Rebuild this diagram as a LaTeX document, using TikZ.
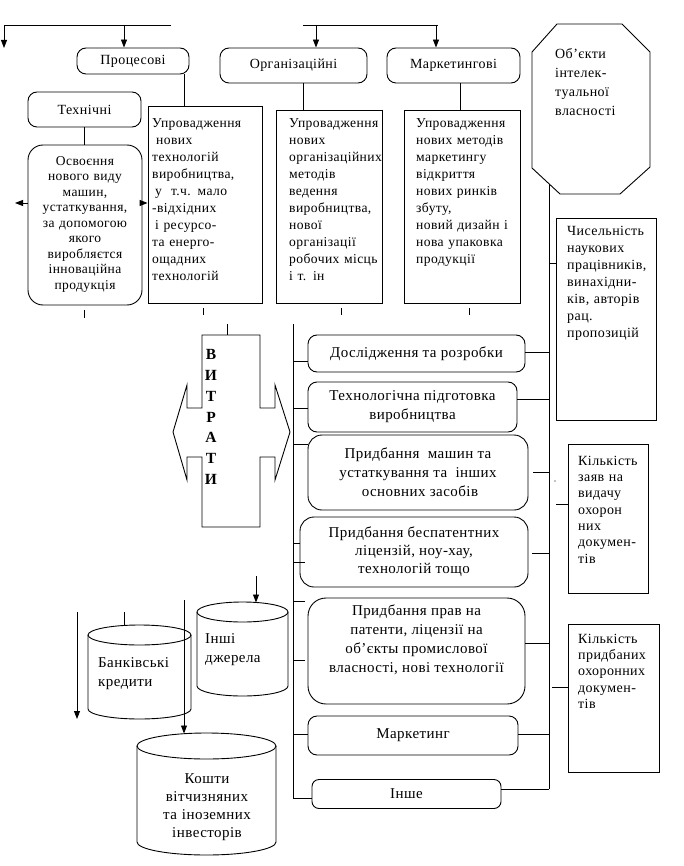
\documentclass[tikz,border=0pt]{standalone}
\usepackage{fontspec}
\setmainfont{Liberation Serif}[LetterSpace=3]
\usetikzlibrary{arrows.meta,calc}
\newcommand\fA{\fontsize{14}{17}\selectfont}
\newcommand\fG{\fontsize{13.6}{17}\selectfont}
\newcommand\fB{\fontsize{13.5}{15.5}\selectfont}
\newcommand\fC{\fontsize{15}{19}\selectfont}
\newcommand\fD{\fontsize{14}{16.3}\selectfont}
\newcommand\fE{\fontsize{14}{19}\selectfont}
\newcommand\fF{\fontsize{15}{18}\selectfont}
\newcommand\st{\rule{0pt}{11pt}}
\begin{document}
\begin{tikzpicture}[x=1pt,y=-1pt,
  ln/.style={line width=0.9pt},
  arr/.style={ln,-{Triangle[length=8pt,width=6pt]}},
  sbox/.style={draw,ln,inner sep=0pt},
  rbox/.style={draw,ln,rounded corners=9pt,inner sep=0pt,align=center},
  txt/.style={inner sep=0pt,anchor=north west,align=left},
  ctxt/.style={inner sep=0pt,anchor=north,align=center}]
\useasboundingbox (0,0) rectangle (683,866);

% ---------- top row ----------
\coordinate (t1a) at (4,25); \coordinate (t1b) at (171,25);
\coordinate (t2a) at (303,25); \coordinate (t2b) at (438,25);
\node[rbox,font=\fA,minimum width=112,minimum height=26] (proc) at (133,61) {Процесові};
\node[rbox,font=\fA,minimum width=147,minimum height=35] (org) at (293.5,65.5) {Організаційні};
\node[rbox,font=\fA,minimum width=133,minimum height=35] (mark) at (453.5,65.5) {Маркетингові};
\node[rbox,font=\fA,minimum width=113,minimum height=35] (tech) at (84.5,109.5) {Технічні};
\coordinate (lft) at (4,48);
\draw[arr] (t1b) -- (t1a) -- (lft);
\draw[ln] (t2a) -- (t2b);
\coordinate (a1) at (124,25); \coordinate (a2) at (316,25); \coordinate (a3) at (436,25);
\draw[arr] (a1) -- (a1 |- proc.north);
\draw[arr] (a2) -- (a2 |- org.north);
\draw[arr] (a3) -- (a3 |- mark.north);

% ---------- column boxes ----------
\node[sbox,minimum width=114,minimum height=197] (u1) at (205,204.5) {};
\node[sbox,minimum width=106,minimum height=193] (u2) at (329,206.5) {};
\node[sbox,minimum width=116,minimum height=193] (u3) at (462,206.5) {};
\node[draw,ln,rounded corners=15pt,minimum width=114,minimum height=160,inner sep=0pt] (osv) at (85,225) {};
\coordinate (pc) at (184,0); \coordinate (oc) at (303,0); \coordinate (mc) at (460,0); \coordinate (tc) at (84,0);
\draw[ln] (pc |- proc.south) -- (pc |- u1.north);
\draw[ln] (oc |- org.south) -- (oc |- u2.north);
\draw[ln] (mc |- mark.south) -- (mc |- u3.north);
\draw[ln] (tc |- tech.south) -- (tc |- osv.north);
\coordinate (ya) at (0,203); \coordinate (lfa) at (15,203);
\draw[arr] (osv.west |- ya) -- (lfa);
\draw[arr] (osv.east |- ya) -- (u1.west |- ya);

\node[txt,font=\fG,text width=108] (u1t) at (152,116) {\st Упровадження\\\hspace*{4pt}нових\\технологій\\виробництва,\\\hspace*{3pt}у~ т.ч. мало\\-відхідних\\\hspace*{3pt}і ресурсо-\\та енерго-\\ощадних\\технологій};
\node[txt,font=\fG,text width=100] (u2t) at (289,116) {\st Упровадження\\нових\\організаційних\\методів\\ведення\\виробництва,\\нової\\організації\\робочих місць\\і т. ін};
\node[txt,font=\fG,text width=102] (u3t) at (416,116) {\st Упровадження\\нових методів\\маркетингу\\відкриття\\нових ринків\\збуту,\\новий дизайн і\\нова упаковка\\продукції};
\node[ctxt,font=\fB,text width=112] (osvt) at (85,154) {\st Освоєння\\нового виду\\машин,\\устаткування,\\за допомогою\\якого\\виробляєтся\\інноваційна\\продукція};

% ticks under column boxes
\draw[ln] (84,310) -- (84,318);
\draw[ln] (203,308) -- (203,315);
\draw[ln] (341,308) -- (341,315);
\draw[ln] (469,308) -- (469,315);

% ---------- octagon ----------
\draw[ln] (557,24) -- (622,24) -- (650,52) -- (650,167) -- (620,194) -- (560,194) -- (532,168) -- (532,52) -- cycle;
\node[txt,font=\fE,text width=90] (okt) at (555,47) {\st Об’єкти\\інтелек-\\туальної\\власності};

% ---------- cross ВИТРАТИ ----------
\coordinate (crtop) at (227,335);
\draw[ln] (202,335) -- (260,335) -- (260,408) -- (275,408) -- (275,385) -- (290,432) -- (275,480) -- (275,457) -- (260,457) -- (260,527) -- (202,527) -- (202,457) -- (187,457) -- (187,480) -- (173,432) -- (187,385) -- (187,408) -- (202,408) -- cycle;
\draw[ln] (227,324) -- (crtop);
\node[inner sep=0pt,align=center,font=\bfseries\fontsize{15.5}{20.8}\selectfont] (vyt) at (211,417) {В\\И\\Т\\Р\\А\\Т\\И};

% ---------- middle boxes ----------
\node[rbox,font=\fC,minimum width=217,minimum height=37] (dosl) at (416.5,353.5) {Дослідження та розробки};
\node[rbox,font=\fC,minimum width=209,minimum height=50] (tech2) at (412.5,407) {Технологічна підготовка\\виробництва};
\node[rbox,font=\fC,rounded corners=14pt,minimum width=220,minimum height=75] (mash) at (418,472.5) {Придбання\ \ машин та\\устаткування та\ \ інших\\\hspace*{4pt}основних засобів};
\node[rbox,font=\fF,rounded corners=14pt,minimum width=228,minimum height=70] (besp) at (414,552) {Придбання беспатентних\\ліцензій, ноу-хау,\\технологій тощо};
\node[rbox,font=\fC,rounded corners=18pt,minimum width=217,minimum height=106] (prav) at (416.5,651) {Придбання прав на\\патенти, ліцензії на\\об’єкты промислової\\власності, нові технології\\[6pt]};
\node[rbox,font=\fC,minimum width=210,minimum height=39] (mrk) at (413,735.5) {Маркетинг};
\node[rbox,font=\fC,rounded corners=7pt,minimum width=189,minimum height=29] (inshe) at (406.5,794) {Інше};

% left bus
\coordinate (lb) at (293,324); \coordinate (lbb) at (293,798);
\draw[ln] (lb) -- (lbb) -- (inshe.west |- lbb);
\draw[ln] (293,361) -- (dosl.west |- 0,361);
\draw[ln] (293,408) -- (tech2.west |- 0,408);
\draw[ln] (293,444) -- (mash.west |- 0,444);
\draw[ln] (293,543) -- (besp.west |- 0,543);
\draw[ln] (293,562) -- (305,562);
\draw[ln] (293,601) -- (305,601);
\draw[ln] (293,660) -- (305,660);
\draw[ln] (293,734) -- (mrk.west |- 0,734);

% right bus
\coordinate (rb) at (549,184); \coordinate (rbb) at (549,789);
\draw[ln] (rb) -- (rbb);
\draw[ln] (dosl.east |- 0,352) -- (rb |- 0,352);
\draw[ln] (tech2.east |- 0,399) -- (rb |- 0,399);
\draw[ln] ($(mash.east |- 0,472)+(5,0)$) -- (rb |- 0,472);
\draw[ln] ($(besp.east |- 0,553)+(4,0)$) -- (rb |- 0,553);
\draw[ln] (prav.east |- 0,643) -- (rb |- 0,643);
\draw[ln] (mrk.east |- 0,734) -- (rb |- 0,734);
\draw[ln] (inshe.east |- 0,789) -- (rbb);

% ---------- right boxes ----------
\node[sbox,minimum width=100,minimum height=202] (chys) at (606,319) {};
\node[sbox,minimum width=80,minimum height=149] (zayav) at (608,518.5) {};
\node[sbox,minimum width=91,minimum height=148] (prydb) at (613.5,698) {};
\node[txt,font=\fA,text width=88] (chyst) at (567,224) {\st Чисельність\\наукових\\працівників,\\винахідни-\\ків, авторів\\рац.\\пропозицій};
\node[txt,font=\fD,text width=68] (zayavt) at (578,454) {\st Кількість\\заяв на\\видачу\\охорон\\них\\докумен-\\тів};
\node[txt,font=\fD,text width=78] (prydbt) at (578,632) {\st Кількість\\придбаних\\охоронних\\докумен-\\тів};
\draw[ln] (rb |- 0,263) -- (chys.west |- 0,263);
\draw[ln] (556,504) -- (zayav.west |- 0,504);
\fill (555,481) circle (0.6);
\draw[ln] (552,687) -- (prydb.west |- 0,687);

% ---------- cylinders ----------
% bank credits
\draw[ln] (88,635) -- (88,709) arc[start angle=180,end angle=0,x radius=51.5,y radius=10] -- (191,635);
\draw[ln] (139.5,635) ellipse[x radius=51.5,y radius=10];
\node[txt,font=\fC,text width=100] (bankt) at (98,656) {\st Банківські\\кредити};
% other sources
\draw[ln] (197,612) -- (197,686) arc[start angle=180,end angle=0,x radius=45.5,y radius=10] -- (288,612);
\draw[ln] (242.5,612) ellipse[x radius=45.5,y radius=10];
\node[txt,font=\fC,text width=80] (inshit) at (205,632) {\st Інші\\джерела};
% investors
\draw[ln] (137,746) -- (137,842) arc[start angle=180,end angle=0,x radius=69.5,y radius=13] -- (276,746);
\draw[ln] (206.5,746) ellipse[x radius=69.5,y radius=13];
\node[ctxt,font=\fF,text width=136] (koshtyt) at (207,772) {\st Кошти\\вітчизняних\\та іноземних\\інвесторів};

% arrows to cylinders
\coordinate (b1) at (77,612); \coordinate (b1e) at (77,719);
\coordinate (b2) at (124,612); \coordinate (b2e) at (124,625);
\coordinate (b3) at (184,600); \coordinate (b3e) at (184,733.5);
\coordinate (b4) at (256,576); \coordinate (b4e) at (256,602.5);
\draw[arr] (b1) -- (b1e);
\draw[ln] (b2) -- (b2e);
\draw[arr] (b3) -- (b3e);
\draw[arr] (b4) -- (b4e);
\end{tikzpicture}
\end{document}
